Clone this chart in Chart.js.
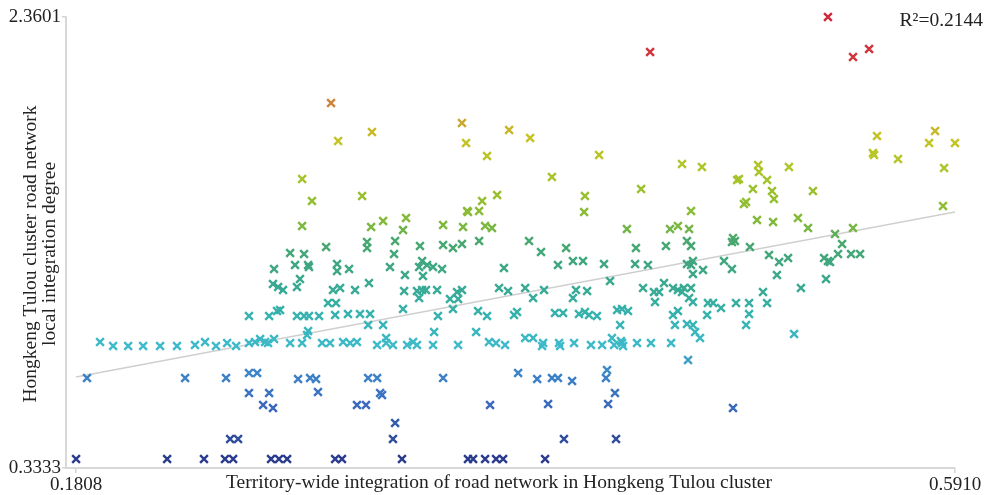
<!DOCTYPE html>
<html>
<head>
<meta charset="utf-8">
<title>Hongkeng Tulou integration scatter</title>
<script src="https://cdn.jsdelivr.net/npm/chart.js@4.4.1/dist/chart.umd.min.js"></script>
<style>
html,body{margin:0;padding:0;background:#fff}
#wrap{width:986px;height:495px;position:relative}
</style>
</head>
<body>
<div id="wrap"><canvas id="chart"></canvas></div>
<script>
// ===== DATA =====
// [territory-wide integration, local integration degree]
const upperPoints = [
[0.5317,2.3601],[0.4487,2.2028],[0.5434,2.1803],[0.5509,2.2163],[0.2998,1.9736],
[0.3609,1.8837],[0.3189,1.8433],[0.3829,1.8523],[0.5546,1.8253],[0.5817,1.8478],
[0.3031,1.8029],[0.3628,1.7939],[0.3927,1.8163],[0.5910,1.7939],[0.5789,1.7939],
[0.5527,1.7489],[0.5532,1.7399],[0.3726,1.7354],[0.4249,1.7399],[0.5644,1.7220],
[0.4636,1.6995],[0.4729,1.6860],[0.4991,1.6950],[0.5135,1.6860],[0.5859,1.6815],
[0.4995,1.6635],[0.5033,1.6276],[0.4893,1.6276],[0.4902,1.6321],[0.4967,1.5871],
[0.5056,1.5782],[0.5065,1.5422],[0.5247,1.5782],[0.4925,1.5197],[0.4935,1.5287],
[0.4986,1.4478],[0.5061,1.4389],[0.5177,1.4568],[0.5224,1.4119],[0.5854,1.5108],
[0.5350,1.3849],[0.5434,1.4119],[0.4029,1.6411],[0.4183,1.5557],[0.4179,1.4838],
[0.4445,1.5871],[0.4678,1.4883],[0.4379,1.4074],[0.4580,1.4074],[0.4617,1.4209],
[0.4669,1.4074],[0.2863,1.6321],[0.2909,1.5332],[0.3143,1.5557],[0.2863,1.4209],
[0.3241,1.4433],[0.3348,1.4568],[0.3334,1.4029],[0.3185,1.4164],[0.3521,1.4254],
[0.3614,1.4164],[0.3633,1.4883],[0.3637,1.4838],[0.3689,1.4883],[0.3703,1.5332],
[0.3773,1.5602],[0.3717,1.4209],[0.3749,1.4119]
]

const midLeftPoints = [
[0.2975,1.3265],[0.3166,1.3490],[0.3166,1.3220],[0.3297,1.3535],[0.3292,1.2950],
[0.3413,1.3310],[0.3521,1.3355],[0.3567,1.3220],[0.3609,1.3400],[0.3689,1.3535],
[0.2807,1.2995],[0.2872,1.2950],[0.2830,1.2456],[0.2891,1.2456],[0.2895,1.2366],
[0.3026,1.2501],[0.3026,1.2186],[0.3082,1.2276],[0.3273,1.2366],[0.3409,1.2366],
[0.3423,1.2636],[0.3446,1.2456],[0.3474,1.2366],[0.3516,1.2276],[0.3343,1.2007],
[0.3427,1.1962],[0.3805,1.2321],[0.2853,1.1827],[0.2839,1.1467],[0.2774,1.1333],
[0.3007,1.1333],[0.3040,1.1423],[0.3110,1.1333],[0.3175,1.1647],[0.3339,1.1288],
[0.3399,1.1288],[0.3423,1.1333],[0.3441,1.1333],[0.3493,1.1333],[0.3586,1.1243],
[0.3609,1.1333],[0.3591,1.0928],[0.3409,1.0973],[0.3553,1.0928],[0.3782,1.1423],
[0.3824,1.1288],[0.2984,1.0748],[0.3021,1.0748],[0.3334,1.0479],[0.3567,1.0479],
[0.3684,1.0389],[0.2839,1.0164],[0.2872,1.0164],[0.2895,1.0164],[0.2942,1.0164],
[0.3017,1.0209],[0.3077,1.0254],[0.3133,1.0254],[0.3180,1.0254],[0.3497,1.0164],
[0.3726,1.0164],[0.2760,1.0434],[0.2615,1.0164],[0.2709,1.0164],[0.2746,1.0389],
[0.2732,1.2276],[0.2727,1.1602],[0.2751,1.1467]
]

const cyanRowPoints = [
[0.3171,0.9760],[0.3241,0.9760],[0.2891,0.9490],[0.2886,0.9310],[0.3479,0.9445],
[0.3675,0.9445],[0.2807,0.8951],[0.2863,0.8951],[0.2956,0.8951],[0.2993,0.8951],
[0.3054,0.8996],[0.3087,0.8951],[0.3119,0.8996],[0.3213,0.8861],[0.3255,0.9176],
[0.3255,0.8951],[0.3287,0.8861],[0.3353,0.8861],[0.3381,0.8996],[0.3399,0.8861],
[0.3474,0.8861],[0.3591,0.8861],[0.3735,0.8996],[0.3768,0.8951],[0.3810,0.8861],
[0.1920,0.8996],[0.1981,0.8816],[0.2051,0.8816],[0.2121,0.8816],[0.2200,0.8816],
[0.2279,0.8816],[0.2363,0.8861],[0.2410,0.8996],[0.2461,0.8816],[0.2513,0.8951],
[0.2555,0.8816],[0.2615,0.8951],[0.2643,0.8996],[0.2667,0.9131],[0.2690,0.8996],
[0.2704,0.8951],[0.2732,0.9131]
]

const lowPoints = [
[0.1859,0.7378],[0.2317,0.7378],[0.2508,0.7378],[0.2615,0.7603],[0.2653,0.7603],
[0.2615,0.6704],[0.2709,0.6704],[0.2681,0.6165],[0.2727,0.6030],[0.2527,0.4637],
[0.2564,0.4637],[0.2844,0.7333],[0.2900,0.7378],[0.2928,0.7333],[0.2937,0.6749],
[0.3171,0.7378],[0.3213,0.7378],[0.3227,0.6704],[0.3236,0.6614],[0.3119,0.6165],
[0.3161,0.6165],[0.3521,0.7378],[0.3740,0.6165],[0.3297,0.5356],[0.3287,0.4637],
[0.3871,0.7603],[0.3960,0.7333],[0.4029,0.7378],[0.4057,0.7378],[0.4123,0.7243],
[0.4286,0.7738],[0.4281,0.7378],[0.4323,0.6704],[0.4011,0.6210],[0.4291,0.6210],
[0.4085,0.4637],[0.4328,0.4637],[0.4874,0.6030],
[0.1808,0.3738],[0.2233,0.3738],[0.2405,0.3738],[0.2503,0.3738],[0.2541,0.3738],
[0.2718,0.3738],[0.2755,0.3738],[0.2793,0.3738],[0.3017,0.3738],[0.3049,0.3738],
[0.3329,0.3738],[0.3637,0.3738],[0.3661,0.3738],[0.3717,0.3738],[0.3768,0.3738],
[0.3801,0.3738],[0.3997,0.3738]
]

const midRightPoints = [
[0.3922,1.3535],[0.3978,1.3040],[0.4095,1.3220],[0.4057,1.2456],[0.4127,1.2636],
[0.4174,1.2636],[0.4272,1.2501],[0.4417,1.2501],[0.4477,1.2456],[0.4421,1.3220],
[0.4561,1.3310],[0.4659,1.3535],[0.4678,1.3310],[0.4659,1.2501],[0.4687,1.2636],
[0.4678,1.2456],[0.4734,1.2231],[0.4687,1.2052],[0.4832,1.2636],[0.4300,1.1737],
[0.3904,1.1423],[0.3941,1.0973],[0.3992,1.1333],[0.4141,1.1333],[0.4193,1.1288],
[0.4127,1.0973],[0.4454,1.1423],[0.4505,1.1243],[0.4529,1.1243],[0.4552,1.1647],
[0.4510,1.0793],[0.4594,1.1423],[0.4617,1.1333],[0.4636,1.1243],[0.4645,1.1423],
[0.4678,1.1423],[0.4669,1.0973],[0.4687,1.0793],[0.4757,1.0748],[0.4781,1.0748],
[0.4818,1.0524],[0.3852,1.0209],[0.3866,1.0344],[0.4043,1.0299],[0.4081,1.0299],
[0.4155,1.0254],[0.4183,1.0344],[0.4202,1.0209],[0.4239,1.0164],[0.4333,1.0434],
[0.4356,1.0479],[0.4384,1.0389],[0.4594,1.0209],[0.4617,1.0389],[0.4753,1.0209],
[0.4347,0.9760],[0.4603,0.9760],[0.4659,0.9805],[0.4687,0.9760],[0.4697,0.9445],
[0.4720,0.9176],[0.4664,0.8187],[0.3904,0.9176],[0.3941,0.9176],[0.3983,0.8816],
[0.3988,0.8951],[0.4062,0.8951],[0.4067,0.8816],[0.4132,0.8951],[0.4211,0.8861],
[0.4263,0.8861],[0.4309,0.9176],[0.4319,0.8861],[0.4356,0.8951],[0.4361,0.8816],
[0.4351,0.9041],[0.4426,0.8951],[0.4491,0.8951],[0.4585,0.8951],
[0.4874,1.3669],[0.4883,1.3535],[0.4869,1.3490],[0.4953,1.3265],[0.5383,1.3400],
[0.4869,1.2276],[0.5042,1.2906],[0.5089,1.2591],[0.5131,1.2771],[0.5079,1.2007],
[0.5299,1.2771],[0.5317,1.2636],[0.5327,1.2591],[0.5364,1.2950],[0.5425,1.2950],
[0.5467,1.2950],[0.5308,1.1827],[0.5191,1.1423],[0.5014,1.1243],[0.4888,1.0748],
[0.4949,1.0748],[0.5033,1.0748],[0.4949,1.0254],[0.4935,0.9760],[0.5159,0.9355]
]

// fitted line end points
const trendX = [0.1808, 0.5910]
const trendY = [0.7423, 1.4838]

const xTicks = [0.1808, 0.5910]
const yTicks = [0.3333, 2.3601]
const xRange = [0.1761, 0.5910]
const yRange = [0.3333, 2.3601]

const xTitle = "Territory-wide integration of road network in Hongkeng Tulou cluster"
const yTitle = ["Hongkeng Tulou cluster road network", "local integration degree"]
const r2Text = "R\u00b2=0.2144"


// ===== COLOUR RAMP (by local integration) =====
const ramp = [
[0.37,[43,58,140]],[0.47,[47,78,158]],[0.62,[58,106,190]],[0.76,[60,132,200]],
[0.88,[62,186,202]],[1.02,[54,178,174]],[1.13,[56,170,150]],[1.25,[63,166,128]],
[1.36,[74,168,110]],[1.42,[126,184,62]],[1.55,[150,191,46]],[1.68,[175,197,42]],
[1.82,[198,196,36]],[1.97,[208,132,58]],[2.18,[210,54,58]],[2.36,[206,40,58]]
]

function colorFor(v){
if(v<=ramp[0][0]) return "rgb("+ramp[0][1].join(",")+")"
for(let i=1;i<ramp.length;i++){
if(v<=ramp[i][0]){
const a=ramp[i-1], b=ramp[i]
const t=(v-a[0])/(b[0]-a[0])
const c=a[1].map((k,j)=>Math.round(k+(b[1][j]-k)*t))
return "rgb("+c.join(",")+")"
}
}
return "rgb("+ramp[ramp.length-1][1].join(",")+")"
}

const allPoints = [...upperPoints, ...midLeftPoints, ...cyanRowPoints, ...lowPoints, ...midRightPoints]
  .map(p=>({x:p[0], y:p[1]}))


// ===== TEXT PLUGIN (titles share rows with tick labels) =====
const serif = '"Liberation Serif", "Times New Roman", serif'

const textPlugin = {
id:"textPlugin",
afterDraw(chart){
const ctx = chart.ctx
ctx.save()
ctx.fillStyle = "#222"
ctx.font = "19.5px " + serif
ctx.textAlign = "center"
ctx.textBaseline = "middle"
ctx.fillText(xTitle, 499, 483)

ctx.save()
ctx.translate(31, 254)
ctx.rotate(-Math.PI/2)
ctx.fillText(yTitle[0], 0, 0)
ctx.fillText(yTitle[1], 0, 19)
ctx.restore()

ctx.textAlign = "right"
ctx.fillText(r2Text, 983, 21)
ctx.restore()
}
}


// ===== CHART =====
const tickFont = {family: serif, size: 19}

new Chart(document.getElementById("chart"), {
type:"scatter",
data:{
datasets:[
{
type:"line",
data: trendX.map((x,i)=>({x:x, y:trendY[i]})),
borderColor:"#cfcfcf",
borderWidth:1.5,
pointRadius:0,
order:2
},
{
data: allPoints,
clip:false,
pointStyle:"crossRot",
pointRadius:5.5,
pointBorderWidth:2.4,
pointBorderColor: c => colorFor(c.raw ? c.raw.y : 1),
pointBackgroundColor: c => colorFor(c.raw ? c.raw.y : 1),
order:1
}
]
},
options:{
responsive:true,
maintainAspectRatio:false,
animation:false,
layout:{padding:{left:0, top:17, right:31, bottom:0}},
plugins:{legend:{display:false}, tooltip:{enabled:false}},
scales:{
x:{
type:"linear",
min:xRange[0], max:xRange[1],
afterBuildTicks: s => { s.ticks = xTicks.map(v=>({value:v})) },
afterFit: s => { s.height = 27 },
ticks:{font:tickFont, color:"#222", padding:1, maxRotation:0, autoSkip:false,
  callback: v => Number(v).toFixed(4)},
grid:{drawOnChartArea:false, tickLength:5, color:"#d4d4d4", lineWidth:1.5},
border:{color:"#d8d8d8", width:2}
},
y:{
type:"linear",
min:yRange[0], max:yRange[1],
afterBuildTicks: s => { s.ticks = yTicks.map(v=>({value:v})) },
afterFit: s => { s.width = 66 },
ticks:{font:tickFont, color:"#222", padding:1, autoSkip:false,
  callback: v => Number(v).toFixed(4)},
grid:{drawOnChartArea:false, tickLength:4, color:"#d4d4d4", lineWidth:1.5},
border:{color:"#d8d8d8", width:2}
}
}
},
plugins:[textPlugin]
})
</script>
</body>
</html>
